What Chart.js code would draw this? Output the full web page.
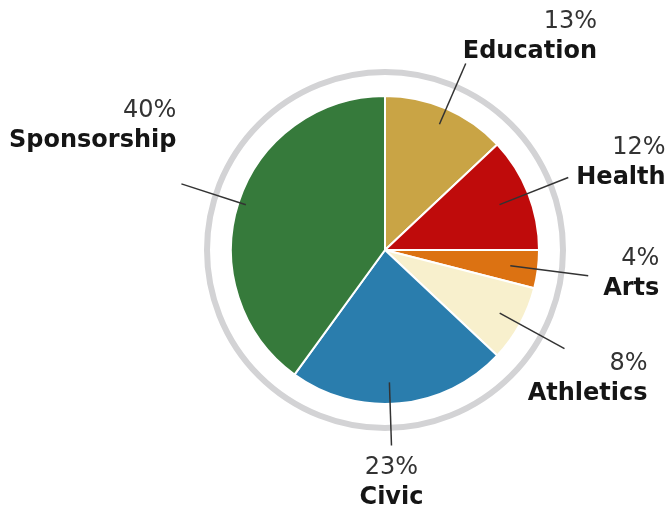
<!DOCTYPE html>
<html>
<head>
<meta charset="utf-8">
<script src="https://cdn.jsdelivr.net/npm/chart.js@4.4.1/dist/chart.umd.min.js"></script>
<style>
  html, body { margin: 0; padding: 0; background: #fff; }
  #wrap { width: 672px; height: 512px; }
</style>
</head>
<body>
<div id="wrap"><canvas id="pie" width="672" height="512"></canvas></div>
<script>
// Data (clockwise from 12 o'clock)
const categories = ['Education', 'Health', 'Arts', 'Athletics', 'Civic', 'Sponsorship'];
const shares = [13, 12, 4, 8, 23, 40];
const sliceColors = ['#C9A445', '#BF0B0B', '#DC7212', '#F8F0CD', '#2A7DAD', '#367A3B'];

// Where each leader line runs and where its label block sits
const labelPlacement = [
    { lineStart: 0.89, lineEnd: 1.32, shift: 0,   align: 'left',   dx: -3, dy: -12 },
    { lineStart: 0.80, lineEnd: 1.28, shift: 0,   align: 'left',   dx: 8,  dy: 0 },
    { lineStart: 0.82, lineEnd: 1.33, shift: 0,   align: 'left',   dx: 15, dy: 13 },
    { lineStart: 0.85, lineEnd: 1.33, shift: 0,   align: 'right',  dx: 83, dy: 45 },
    { lineStart: 0.86, lineEnd: 1.27, shift: 3.5, align: 'center', dx: 0,  dy: 52 },
    { lineStart: 0.95, lineEnd: 1.39, shift: 0,   align: 'right',  dx: -5, dy: -43 }
];

const FONT = '"DejaVu Sans", Verdana, sans-serif';

// Grey ring round the pie
const ringPlugin = {
    id: 'ring',
    beforeDatasetsDraw(chart) {
        const arc = chart.getDatasetMeta(0).data[0];
        if (!arc) return;
        const ctx = chart.ctx;
        ctx.save();
        ctx.beginPath();
        ctx.arc(arc.x, arc.y, arc.outerRadius + 24, 0, Math.PI * 2);
        ctx.strokeStyle = '#d3d3d5';
        ctx.lineWidth = 6;
        ctx.stroke();
        ctx.restore();
    }
};

// Leader lines and two-line labels
const calloutPlugin = {
    id: 'callouts',
    afterDatasetsDraw(chart) {
        const ctx = chart.ctx;
        const arcs = chart.getDatasetMeta(0).data;
        ctx.save();
        arcs.forEach((arc, i) => {
            const p = labelPlacement[i];
            const mid = (arc.startAngle + arc.endAngle) / 2 + p.shift * Math.PI / 180;
            const R = arc.outerRadius;
            const x1 = arc.x + Math.cos(mid) * R * p.lineStart;
            const y1 = arc.y + Math.sin(mid) * R * p.lineStart;
            const x2 = arc.x + Math.cos(mid) * R * p.lineEnd;
            const y2 = arc.y + Math.sin(mid) * R * p.lineEnd;

            ctx.beginPath();
            ctx.moveTo(x1, y1);
            ctx.lineTo(x2, y2);
            ctx.strokeStyle = '#333';
            ctx.lineWidth = 1.5;
            ctx.stroke();

            const name = categories[i];
            const pct = shares[i] + '%';
            ctx.font = 'bold 24px ' + FONT;
            const w = ctx.measureText(name).width;
            let left;
            if (p.align === 'left') left = x2 + p.dx;
            else if (p.align === 'right') left = x2 + p.dx - w;
            else left = x2 + p.dx - w / 2;
            const ny = y2 + p.dy;

            ctx.fillStyle = '#151515';
            ctx.textBaseline = 'middle';
            ctx.textAlign = 'left';
            ctx.fillText(name, left, ny);

            ctx.font = '24px ' + FONT;
            ctx.fillStyle = '#333';
            if (p.align === 'center') {
                ctx.textAlign = 'center';
                ctx.fillText(pct, left + w / 2, ny - 30);
            } else {
                ctx.textAlign = 'right';
                ctx.fillText(pct, left + w, ny - 30);
            }
        });
        ctx.restore();
    }
};

new Chart(document.getElementById('pie'), {
    type: 'pie',
    data: {
        labels: categories,
        datasets: [{
            data: shares,
            backgroundColor: sliceColors,
            borderColor: '#ffffff',
            borderWidth: 2
        }]
    },
    options: {
        responsive: false,
        animation: false,
        layout: { padding: { top: 94, bottom: 106, left: 230, right: 132 } },
        plugins: {
            legend: { display: false },
            tooltip: { enabled: false }
        }
    },
    plugins: [ringPlugin, calloutPlugin]
});
</script>
</body>
</html>
